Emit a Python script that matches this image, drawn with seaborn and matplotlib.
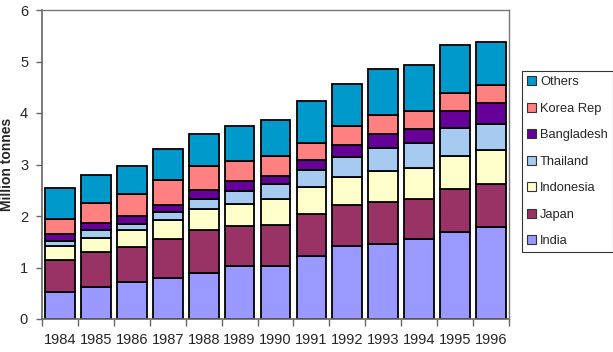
import numpy as np
import pandas as pd
import matplotlib
matplotlib.use('Agg')
import matplotlib.pyplot as plt
import seaborn as sns
from matplotlib.patches import Patch

years = ['1984', '1985', '1986', '1987', '1988', '1989', '1990',
         '1991', '1992', '1993', '1994', '1995', '1996']

# values per country (million tonnes)
india = [0.52, 0.63, 0.71, 0.79, 0.90, 1.02, 1.02, 1.23, 1.41, 1.45, 1.55, 1.69, 1.78]
japan = [0.63, 0.68, 0.69, 0.77, 0.82, 0.79, 0.81, 0.80, 0.80, 0.83, 0.78, 0.84, 0.84]
indonesia = [0.27, 0.27, 0.33, 0.37, 0.42, 0.43, 0.50, 0.53, 0.55, 0.60, 0.60, 0.64, 0.66]
thailand = [0.10, 0.15, 0.12, 0.14, 0.19, 0.25, 0.29, 0.33, 0.39, 0.45, 0.49, 0.54, 0.51]
bangladesh = [0.13, 0.13, 0.15, 0.15, 0.18, 0.18, 0.16, 0.20, 0.22, 0.26, 0.27, 0.33, 0.40]
korea = [0.29, 0.40, 0.42, 0.48, 0.46, 0.39, 0.39, 0.33, 0.38, 0.38, 0.35, 0.35, 0.35]
others = [0.60, 0.54, 0.56, 0.60, 0.62, 0.69, 0.69, 0.81, 0.82, 0.88, 0.90, 0.94, 0.84]

series = ['India', 'Japan', 'Indonesia', 'Thailand', 'Bangladesh', 'Korea Rep', 'Others']
colors = ['#9999FF', '#993366', '#FFFFCC', '#A6CAF0', '#660099', '#FF8080', '#0099CC']

df = pd.DataFrame({'year': years, 'India': india, 'Japan': japan,
                   'Indonesia': indonesia, 'Thailand': thailand,
                   'Bangladesh': bangladesh, 'Korea Rep': korea,
                   'Others': others})

sns.set_style('white')
plt.rcParams['font.family'] = ['Liberation Sans', 'DejaVu Sans']

fig = plt.figure(figsize=(6.13, 3.52), dpi=100)
ax = fig.add_axes([42 / 613, 1 - 319 / 352, (509 - 42) / 613, (319 - 10) / 352])

bottom = np.zeros(len(years))
for name, c in zip(series, colors):
    sns.barplot(data=df, x='year', y=name, bottom=bottom, color=c,
                width=0.83, edgecolor='black', linewidth=1.3, ax=ax,
                saturation=1, errorbar=None)
    bottom = bottom + df[name].values

ax.set_ylim(0, 6)
ax.set_xlim(-0.5, len(years) - 0.5)
ax.set_yticks(range(7))
ax.set_xlabel('')
ax.set_ylabel('Million tonnes', fontsize=10, fontweight='bold', labelpad=4)

# category ticks sit between bars, Excel style
ax.set_xticks(np.arange(-0.5, len(years), 1), minor=False)
ax.set_xticklabels([])
ax.set_xticks(range(len(years)), minor=True)
ax.set_xticklabels(years, minor=True, fontsize=10.5)
ax.tick_params(axis='x', which='major', direction='out', length=5, width=1, color='#666666', bottom=True)
ax.tick_params(axis='x', which='minor', length=0, pad=10)
ax.tick_params(axis='y', direction='out', length=4, width=1, color='#666666', left=True, labelsize=10.5, pad=6)

for s in ['left', 'bottom']:
    ax.spines[s].set_color('#666666')
    ax.spines[s].set_linewidth(1.2)
for s in ['top', 'right']:
    ax.spines[s].set_color('#777777')
    ax.spines[s].set_linewidth(1)

handles = [Patch(facecolor=c, edgecolor='#333333', linewidth=0.8, label=n)
           for n, c in zip(series[::-1], colors[::-1])]
leg = fig.legend(handles=handles, loc='upper left',
                 bbox_to_anchor=(522 / 613, 1 - 71 / 352),
                 fontsize=9.3, frameon=True, fancybox=False,
                 handlelength=0.7, handleheight=0.7, handletextpad=0.3,
                 labelspacing=1.12, borderpad=0.4, borderaxespad=0)
leg.get_frame().set_edgecolor('black')
leg.get_frame().set_linewidth(0.8)

fig.savefig('out.png', dpi=100)
